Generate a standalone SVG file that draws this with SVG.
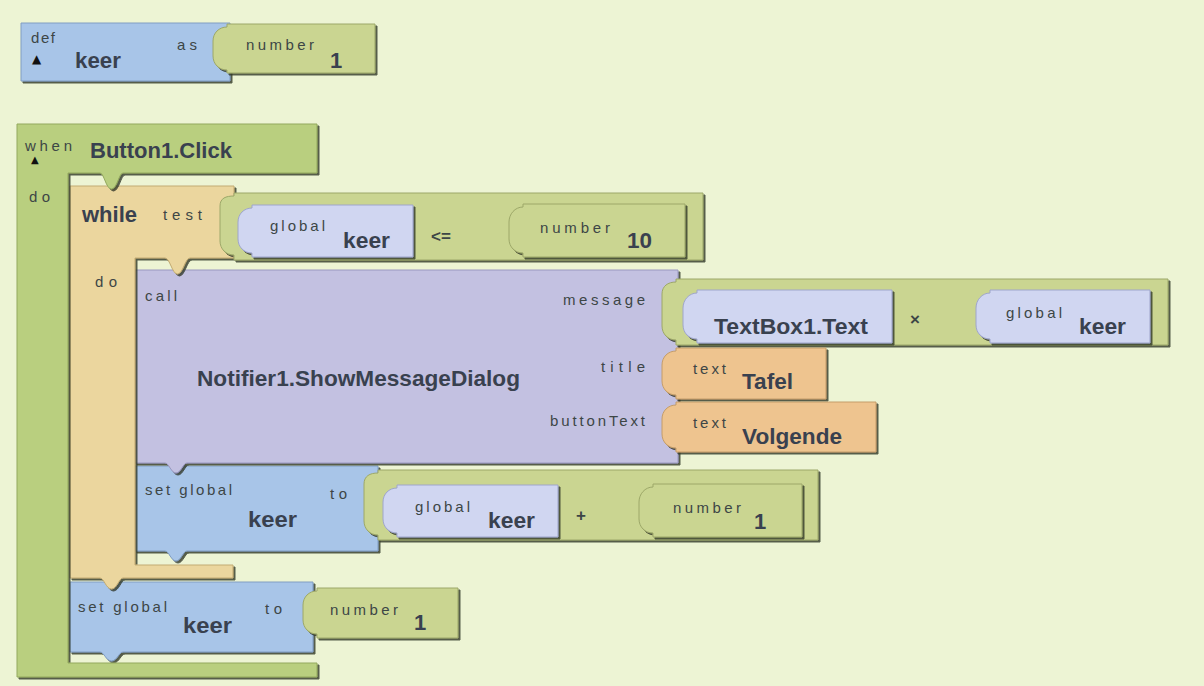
<svg xmlns="http://www.w3.org/2000/svg" width="1204" height="686" viewBox="0 0 1204 686">
<defs>
<filter id="bev" x="-5%" y="-5%" width="110%" height="120%">
<feOffset in="SourceAlpha" dx="1.5" dy="2" result="off"/>
<feFlood flood-color="#2f3628" flood-opacity="0.8"/>
<feComposite in2="off" operator="in" result="sh"/>
<feMerge><feMergeNode in="sh"/><feMergeNode in="SourceGraphic"/></feMerge>
</filter>
<style>
.blk{stroke-width:1;filter:url(#bev)}
.g1{fill:#b9cf7f;stroke:#93a95e}
.g2{fill:#cad591;stroke:#9ca768}
.bl{fill:#a8c5e8;stroke:#809dc2}
.lv{fill:#d0d6f1;stroke:#9ea5cb}
.pu{fill:#c3c1e1;stroke:#9a98c0}
.tn{fill:#ebd69e;stroke:#c2ab72}
.or{fill:#eec48f;stroke:#c49c68}
.s{font-family:"Liberation Sans",Arial,sans-serif;font-size:15px;fill:#3d4646}
.b{font-family:"Liberation Sans",Arial,sans-serif;font-size:22px;font-weight:bold;fill:#39414f}
.op{font-family:"Liberation Sans",Arial,sans-serif;font-size:17px;font-weight:bold;fill:#3d4646}
.tri{font-family:"DejaVu Sans",sans-serif;fill:#111}
</style>
</defs>
<rect width="1204" height="686" fill="#edf4d4"/>

<g id="def-keer">
<path class="blk bl" d="M21,23 H230 V81 H21 Z"/>
<text class="s" x="31" y="43" font-size="14" textLength="24" lengthAdjust="spacing">def</text>
<text class="tri" x="32" y="63" font-size="12">▲</text>
<text class="b" x="75" y="68" textLength="46" lengthAdjust="spacingAndGlyphs">keer</text>
<text class="s" x="177" y="50" textLength="20" lengthAdjust="spacing">as</text>
</g>
<g id="def-number">
<path class="blk g2" d="M227,24 H375 V73 H227 L227,70 C219,70 213,64 213,56 L213,41 C213,33 219,27 227,27 Z"/>
<text class="s" x="246" y="50" textLength="68" lengthAdjust="spacing">number</text>
<text class="b" x="330" y="68">1</text>
</g>

<g id="set-outer">
<path class="blk bl" d="M70,582 H313 V652 H123 C119,652 117,661 111.5,661 C106,661 104,652 100,652 H70 Z"/>
<text class="s" x="78" y="612" textLength="89" lengthAdjust="spacing">set global</text>
<text class="b" x="183" y="633" textLength="49" lengthAdjust="spacingAndGlyphs">keer</text>
<text class="s" x="265" y="614" textLength="17" lengthAdjust="spacing">to</text>
</g>

<g id="set-inner">
<path class="blk bl" d="M135,466 H378 V551 H187 C183,551 181,561 176,561 C171,561 169,551 165,551 H135 Z"/>
<text class="s" x="145" y="495" textLength="87" lengthAdjust="spacing">set global</text>
<text class="b" x="248" y="527" textLength="49" lengthAdjust="spacingAndGlyphs">keer</text>
<text class="s" x="330" y="499" textLength="17" lengthAdjust="spacing">to</text>
</g>

<g id="call-notifier">
<path class="blk pu" d="M135,270 H678 V463 H187 C183,463 181,473 176,473 C171,473 169,463 165,463 H135 Z"/>
<text class="s" x="145" y="301" textLength="32" lengthAdjust="spacing">call</text>
<text class="b" x="197" y="386" textLength="323" lengthAdjust="spacingAndGlyphs">Notifier1.ShowMessageDialog</text>
<text class="s" x="563" y="305" textLength="82" lengthAdjust="spacing">message</text>
<text class="s" x="601" y="372" textLength="44" lengthAdjust="spacing">title</text>
<text class="s" x="550" y="426" textLength="95" lengthAdjust="spacing">buttonText</text>
</g>

<g id="while">
<path class="blk tn" d="M70,186 H234 V258 H190 C185,258 183,274 177.5,274 C172,274 170,258 165,258 H135 V565 H233 V578 H123 C119,578 117,589 111.5,589 C106,589 104,578 100,578 H70 Z"/>
<text class="b" x="82" y="222" textLength="55" lengthAdjust="spacingAndGlyphs">while</text>
<text class="s" x="163" y="220" textLength="39" lengthAdjust="spacing">test</text>
<text class="s" x="95" y="287" textLength="22" lengthAdjust="spacing">do</text>
</g>

<g id="when-click">
<path class="blk g1" d="M17,124 H317 V173 H123 C119,173 117,189 111.5,189 C106,189 104,173 100,173 H68 V663 H317 V677 H17 Z"/>
<text class="s" x="25" y="151" font-size="14" textLength="47" lengthAdjust="spacing">when</text>
<text class="tri" x="31" y="163" font-size="10">▲</text>
<text class="b" x="90" y="158" textLength="142" lengthAdjust="spacingAndGlyphs">Button1.Click</text>
<text class="s" x="29" y="202" textLength="21" lengthAdjust="spacing">do</text>
</g>

<g id="compare">
<path class="blk g2" d="M234,193 H703 V260 H234 L234,255 C226,255 220,249 220,241 L220,206 C220,198 226,196 234,196 Z"/>
<text class="op" x="431" y="242">&lt;=</text>
</g>
<g id="test-global">
<path class="blk lv" d="M252,205 H413 V257 H252 L252,253 C244,253 238,247 238,239 L238,222 C238,214 244,208 252,208 Z"/>
<text class="s" x="270" y="231" textLength="55" lengthAdjust="spacing">global</text>
<text class="b" x="343" y="248" textLength="47" lengthAdjust="spacingAndGlyphs">keer</text>
</g>
<g id="number-10">
<path class="blk g2" d="M523,204 H685 V257 H523 L523,253 C515,253 509,247 509,239 L509,222 C509,214 515,207 523,207 Z"/>
<text class="s" x="540" y="233" textLength="70" lengthAdjust="spacing">number</text>
<text class="b" x="627" y="248" textLength="25" lengthAdjust="spacingAndGlyphs">10</text>
</g>

<g id="multiply">
<path class="blk g2" d="M676,279 H1168 V345 H676 L676,340 C668,340 662,334 662,326 L662,294 C662,286 668,282 676,282 Z"/>
<text class="op" x="910" y="325">×</text>
</g>
<g id="textbox-text">
<path class="blk lv" d="M697,290 H892 V343 H697 L697,339 C689,339 683,333 683,325 L683,308 C683,300 689,293 697,293 Z"/>
<text class="b" x="714" y="334" textLength="154" lengthAdjust="spacingAndGlyphs">TextBox1.Text</text>
</g>
<g id="mult-global">
<path class="blk lv" d="M990,290 H1150 V343 H990 L990,339 C982,339 976,333 976,325 L976,308 C976,300 982,293 990,293 Z"/>
<text class="s" x="1006" y="318" textLength="56" lengthAdjust="spacing">global</text>
<text class="b" x="1079" y="334" textLength="47" lengthAdjust="spacingAndGlyphs">keer</text>
</g>

<g id="text-tafel">
<path class="blk or" d="M676,348 H826 V399 H676 L676,395 C668,395 662,389 662,381 L662,365 C662,357 668,351 676,351 Z"/>
<text class="s" x="693" y="374" textLength="33" lengthAdjust="spacing">text</text>
<text class="b" x="742" y="389" textLength="51" lengthAdjust="spacingAndGlyphs">Tafel</text>
</g>
<g id="text-volgende">
<path class="blk or" d="M676,402 H876 V452 H676 L676,448 C668,448 662,442 662,434 L662,419 C662,411 668,405 676,405 Z"/>
<text class="s" x="693" y="428" textLength="33" lengthAdjust="spacing">text</text>
<text class="b" x="742" y="444" textLength="100" lengthAdjust="spacingAndGlyphs">Volgende</text>
</g>

<g id="plus">
<path class="blk g2" d="M378,470 H818 V540 H378 L378,535 C370,535 364,529 364,521 L364,484 C364,476 370,473 378,473 Z"/>
<text class="op" x="576" y="521">+</text>
</g>
<g id="plus-global">
<path class="blk lv" d="M397,485 H558 V537 H397 L397,533 C389,533 383,527 383,519 L383,502 C383,494 389,488 397,488 Z"/>
<text class="s" x="415" y="512" textLength="55" lengthAdjust="spacing">global</text>
<text class="b" x="488" y="528" textLength="47" lengthAdjust="spacingAndGlyphs">keer</text>
</g>
<g id="plus-number">
<path class="blk g2" d="M653,484 H802 V537 H653 L653,533 C645,533 639,527 639,519 L639,502 C639,494 645,487 653,487 Z"/>
<text class="s" x="673" y="513" textLength="68" lengthAdjust="spacing">number</text>
<text class="b" x="754" y="529">1</text>
</g>

<g id="outer-number">
<path class="blk g2" d="M317,588 H458 V638 H317 L317,634 C309,634 303,628 303,620 L303,605 C303,597 309,591 317,591 Z"/>
<text class="s" x="330" y="615" textLength="68" lengthAdjust="spacing">number</text>
<text class="b" x="414" y="630">1</text>
</g>

<g id="connectors"/>
</svg>
